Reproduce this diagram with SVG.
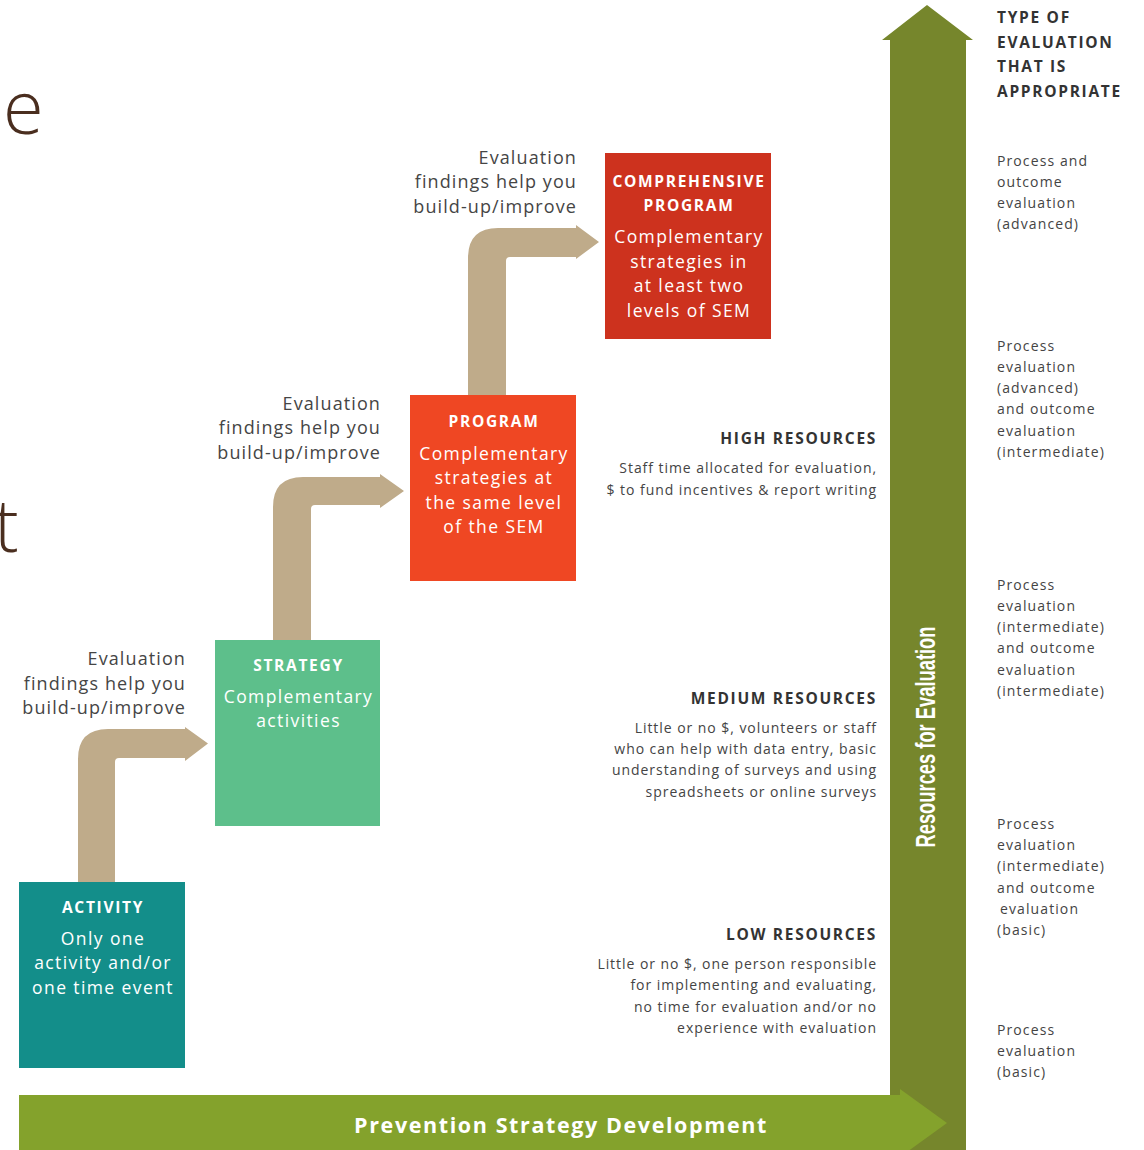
<svg xmlns="http://www.w3.org/2000/svg" width="1144" height="1150" viewBox="0 0 1144 1150">
<style>
.lbl{font-family:"Open Sans","Liberation Sans",sans-serif;font-size:18px;letter-spacing:1.1px;fill:#454545;text-anchor:end}
.bh{font-family:"Open Sans","Liberation Sans",sans-serif;font-size:15.5px;font-weight:700;letter-spacing:1.7px;fill:#fff;text-anchor:middle}
.bb{font-family:"Open Sans","Liberation Sans",sans-serif;font-size:17.5px;letter-spacing:1.4px;fill:#fff;text-anchor:middle}
.rh{font-family:"Open Sans","Liberation Sans",sans-serif;font-size:15.5px;font-weight:700;letter-spacing:1.7px;fill:#333;text-anchor:end}
.rt{font-family:"Open Sans","Liberation Sans",sans-serif;font-size:14px;letter-spacing:0.95px;fill:#444;text-anchor:end}
.ch{font-family:"Open Sans","Liberation Sans",sans-serif;font-size:15.5px;font-weight:700;letter-spacing:1.7px;fill:#333}
.ct{font-family:"Open Sans","Liberation Sans",sans-serif;font-size:14px;letter-spacing:1.1px;fill:#444}
.tan{fill:#bfab8a}
</style>
<rect width="1144" height="1150" fill="#fff"/>
<text x="3" y="134" font-family="Open Sans, Liberation Sans, sans-serif" font-weight="300" font-size="74" fill="#4a2e1f">e</text>
<text x="-6" y="552" font-family="Open Sans, Liberation Sans, sans-serif" font-weight="300" font-size="74" fill="#4a2e1f">t</text>

<g id="axis-vertical">
<polygon points="890,1150 890,40 882,40 927,5 973,40 966,40 966,1150" fill="#76862c"/>
<text transform="translate(935,737) rotate(-90)" text-anchor="middle" font-family="Liberation Sans, sans-serif" font-weight="700" font-size="27" fill="#fff" textLength="221" lengthAdjust="spacingAndGlyphs">Resources for Evaluation</text>
</g>
<g id="axis-horizontal">
<polygon points="19,1095 900,1095 900,1089 947,1123 900,1157 900,1150 19,1150" fill="#84a22c"/>
<text x="561" y="1133" text-anchor="middle" font-family="Open Sans, Liberation Sans, sans-serif" font-weight="700" font-size="21.5" letter-spacing="1.6" fill="#fff">Prevention Strategy Development</text>
</g>

<g id="connectors">
<path class="tan" d="M78 882 V759 Q78 729 108 729 H185 V727 L208 743.5 L185 761 V758 H119 Q115 758 115 762 V882 Z"/>
<path class="tan" d="M273 640 V507 Q273 477 303 477 H380 V474 L404 491 L380 508 V505 H315 Q311 505 311 509 V640 Z"/>
<path class="tan" d="M468 395 V258 Q468 228 498 228 H576 V225 L599 242 L576 259 V257 H510 Q506 257 506 261 V395 Z"/>
</g>

<g id="node-activity">
<rect x="19" y="882" width="166" height="186" fill="#138e8a"/>
<text class="bh" x="103" y="913">ACTIVITY</text>
<text class="bb" x="103" y="945">Only one</text>
<text class="bb" x="103" y="969">activity and/or</text>
<text class="bb" x="103" y="994">one time event</text>
</g>
<g id="node-strategy">
<rect x="215" y="640" width="165" height="186" fill="#5dbf8b"/>
<text class="bh" x="298.5" y="671">STRATEGY</text>
<text class="bb" x="298.5" y="703">Complementary</text>
<text class="bb" x="298.5" y="727">activities</text>
</g>
<g id="node-program">
<rect x="410" y="395" width="166" height="186" fill="#ef4723"/>
<text class="bh" x="494" y="427">PROGRAM</text>
<text class="bb" x="494" y="460">Complementary</text>
<text class="bb" x="494" y="484">strategies at</text>
<text class="bb" x="494" y="509">the same level</text>
<text class="bb" x="494" y="533">of the SEM</text>
</g>
<g id="node-comprehensive">
<rect x="605" y="153" width="166" height="186" fill="#cd321e"/>
<text class="bh" x="689" y="187">COMPREHENSIVE</text>
<text class="bh" x="689" y="211">PROGRAM</text>
<text class="bb" x="689" y="243">Complementary</text>
<text class="bb" x="689" y="268">strategies in</text>
<text class="bb" x="689" y="292">at least two</text>
<text class="bb" x="689" y="317">levels of SEM</text>
</g>

<g id="labels-findings">
<text class="lbl" x="577" y="164">Evaluation</text>
<text class="lbl" x="577" y="188">findings help you</text>
<text class="lbl" x="577" y="213">build-up/improve</text>
<text class="lbl" x="381" y="410">Evaluation</text>
<text class="lbl" x="381" y="434">findings help you</text>
<text class="lbl" x="381" y="459">build-up/improve</text>
<text class="lbl" x="186" y="665">Evaluation</text>
<text class="lbl" x="186" y="690">findings help you</text>
<text class="lbl" x="186" y="714">build-up/improve</text>
</g>

<g id="resources-high">
<text class="rh" x="877" y="444">HIGH RESOURCES</text>
<text class="rt" x="877" y="473">Staff time allocated for evaluation,</text>
<text class="rt" x="877" y="495">$ to fund incentives &amp; report writing</text>
</g>
<g id="resources-medium">
<text class="rh" x="877" y="704">MEDIUM RESOURCES</text>
<text class="rt" x="877" y="733">Little or no $, volunteers or staff</text>
<text class="rt" x="877" y="754">who can help with data entry, basic</text>
<text class="rt" x="877" y="775">understanding of surveys and using</text>
<text class="rt" x="877" y="797">spreadsheets or online surveys</text>
</g>
<g id="resources-low">
<text class="rh" x="877" y="940">LOW RESOURCES</text>
<text class="rt" x="877" y="969">Little or no $, one person responsible</text>
<text class="rt" x="877" y="990">for implementing and evaluating,</text>
<text class="rt" x="877" y="1012">no time for evaluation and/or no</text>
<text class="rt" x="877" y="1033">experience with evaluation</text>
</g>

<g id="eval-types">
<text class="ch" x="997" y="23">TYPE OF</text>
<text class="ch" x="997" y="48">EVALUATION</text>
<text class="ch" x="997" y="72">THAT IS</text>
<text class="ch" x="997" y="97">APPROPRIATE</text>
<text class="ct" x="997" y="166">Process and</text>
<text class="ct" x="997" y="187">outcome</text>
<text class="ct" x="997" y="208">evaluation</text>
<text class="ct" x="997" y="229">(advanced)</text>
<text class="ct" x="997" y="351">Process</text>
<text class="ct" x="997" y="372">evaluation</text>
<text class="ct" x="997" y="393">(advanced)</text>
<text class="ct" x="997" y="414">and outcome</text>
<text class="ct" x="997" y="436">evaluation</text>
<text class="ct" x="997" y="457">(intermediate)</text>
<text class="ct" x="997" y="590">Process</text>
<text class="ct" x="997" y="611">evaluation</text>
<text class="ct" x="997" y="632">(intermediate)</text>
<text class="ct" x="997" y="653">and outcome</text>
<text class="ct" x="997" y="675">evaluation</text>
<text class="ct" x="997" y="696">(intermediate)</text>
<text class="ct" x="997" y="829">Process</text>
<text class="ct" x="997" y="850">evaluation</text>
<text class="ct" x="997" y="871">(intermediate)</text>
<text class="ct" x="997" y="893">and outcome</text>
<text class="ct" x="1000" y="914">evaluation</text>
<text class="ct" x="997" y="935">(basic)</text>
<text class="ct" x="997" y="1035">Process</text>
<text class="ct" x="997" y="1056">evaluation</text>
<text class="ct" x="997" y="1077">(basic)</text>
</g>
</svg>
